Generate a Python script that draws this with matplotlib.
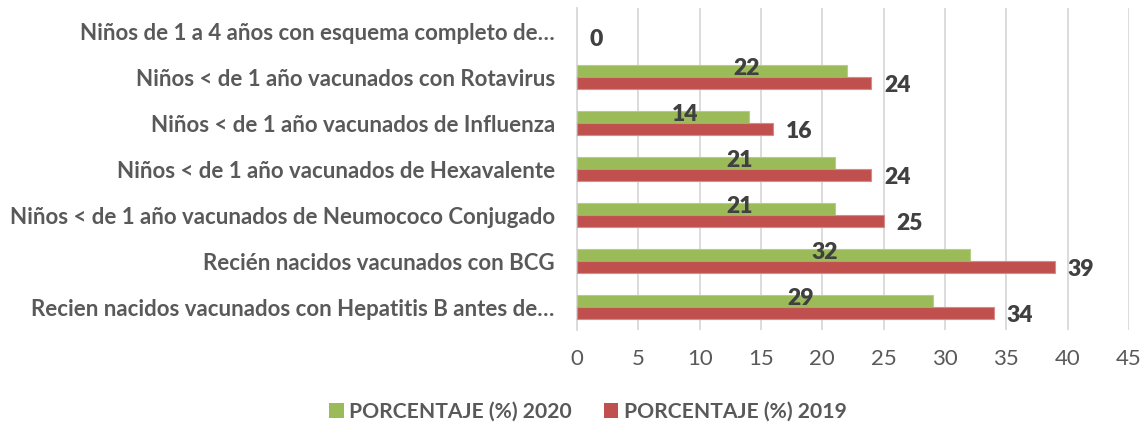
import matplotlib
matplotlib.use("Agg")
import matplotlib.pyplot as plt
import numpy as np

categories = [
    "Niños de 1 a 4 años con esquema completo de…",
    "Niños < de 1 año vacunados con Rotavirus",
    "Niños < de 1 año vacunados de Influenza",
    "Niños < de 1 año vacunados de Hexavalente",
    "Niños < de 1 año vacunados de Neumococo Conjugado",
    "Recién nacidos vacunados con BCG",
    "Recien nacidos vacunados con Hepatitis B antes de…",
]
pct_2020 = [np.nan, 22, 14, 21, 21, 32, 29]
pct_2019 = [0, 24, 16, 24, 25, 39, 34]
series_names = ["PORCENTAJE (%) 2020", "PORCENTAJE (%) 2019"]
xticks = [0, 5, 10, 15, 20, 25, 30, 35, 40, 45]

GREEN = "#9BBB59"
RED = "#C0504D"
TXT = "#595959"
LBL = "#404040"
FONT = "Lato"

plt.rcParams["font.family"] = [FONT, "DejaVu Sans"]

fig = plt.figure(figsize=(11.48, 4.28), dpi=100)
ax = fig.add_axes([577 / 1148, 1 - 330 / 428, (1129 - 577) / 1148, (330 - 8) / 428])

y = np.arange(len(categories))
h = 0.26
g = np.array(pct_2020, dtype=float)
r = np.array(pct_2019, dtype=float)
gv = np.nan_to_num(g)
gb = ax.barh(y - h / 2, gv, height=h, color=GREEN, edgecolor="#B5CE85",
             linewidth=[0.8 if v > 0 else 0 for v in gv], label=series_names[0], zorder=3)
rb = ax.barh(y + h / 2, r, height=h, color=RED, edgecolor="#D98A87",
             linewidth=[0.8 if v > 0 else 0 for v in r], label=series_names[1], zorder=3)

for yi, v in zip(y, g):
    if np.isnan(v):
        continue
    ax.annotate(f"{v:.0f}", xy=(v * 0.63, yi - h / 2), xytext=(0, 2), textcoords="offset points",
                ha="center", va="center", fontsize=16.5, fontweight="heavy", color=LBL, zorder=4)
for yi, v in zip(y, r):
    ax.annotate(f"{v:.0f}", xy=(v, yi + h / 2), xytext=(9, -2), textcoords="offset points",
                ha="left", va="center", fontsize=16.5, fontweight="heavy", color=LBL, zorder=4)

ax.set_xlim(0, 45)
ax.set_ylim(len(categories) - 0.5, -0.5)
ax.set_xticks(xticks)
ax.set_xticklabels([str(t) for t in xticks])
ax.set_yticks(y)
ax.set_yticklabels(categories)
ax.tick_params(axis="x", length=0, pad=14, labelsize=16, labelcolor=TXT)
ax.tick_params(axis="y", length=0, pad=16, labelsize=16, labelcolor=TXT)
for t in ax.get_yticklabels():
    t.set_fontweight("bold")
ax.grid(axis="x", color="#D9D9D9", linewidth=1.3, zorder=0)
for s in ["top", "right", "bottom"]:
    ax.spines[s].set_visible(False)
ax.spines["left"].set_color("#D9D9D9")
ax.spines["left"].set_linewidth(1.3)
ax.spines["left"].set_zorder(2)

leg = fig.legend(handles=[gb, rb], labels=series_names, loc="center", bbox_to_anchor=(0.512, 1 - 412 / 428),
                 ncol=2, frameon=False, handlelength=0.7, handleheight=0.7, handletextpad=0.25,
                 columnspacing=1.5, prop={"family": FONT, "weight": "bold", "size": 15.2})
for t in leg.get_texts():
    t.set_color(TXT)

fig.savefig("out.png", dpi=100, facecolor="white")
